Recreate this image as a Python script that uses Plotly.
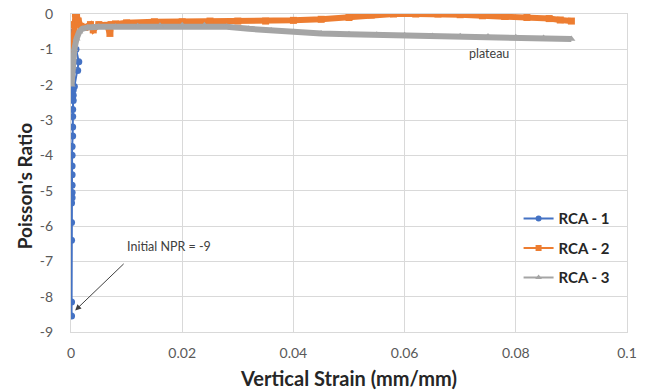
import plotly.graph_objects as go

# ---- data ----
rca1_x = [0.0001, 0.0001, 0.0001, 0.0001, 0.0001, 0.0002, 0.0002, 0.0002, 0.0002, 0.0002,
          0.0002, 0.0002, 0.0003, 0.0003, 0.0003, 0.0003, 0.0004, 0.0004, 0.0004, 0.0006,
          0.0012, 0.0014, 0.0009, 0.0004]
rca1_y = [-8.55, -8.15, -6.4, -5.9, -5.35, -5.2, -5.05, -4.85, -4.55, -4.3,
          -4.0, -3.75, -3.45, -3.2, -2.9, -2.7, -2.45, -2.3, -2.15, -2.05,
          -1.6, -1.35, -1.0, -0.5]

rca2_x = [0.0001, 0.0003, 0.0006, 0.0008, 0.0010, 0.0013, 0.0018, 0.0025, 0.0035, 0.004,
          0.005, 0.0065, 0.007, 0.0072, 0.008, 0.010, 0.015, 0.020, 0.025, 0.030,
          0.035, 0.040, 0.045, 0.050, 0.054, 0.058, 0.062, 0.066, 0.070, 0.074,
          0.078, 0.082, 0.086, 0.088, 0.090]
rca2_y = [-1.5, -0.9, -0.3, 0.0, -0.05, -0.2, -0.35, -0.38, -0.3, -0.45,
          -0.3, -0.32, -0.55, -0.3, -0.28, -0.25, -0.22, -0.22, -0.2, -0.2,
          -0.2, -0.18, -0.15, -0.1, -0.03, 0.0, 0.0, 0.0, -0.02, -0.05,
          -0.07, -0.1, -0.13, -0.17, -0.2]

rca3_x = [0.0001, 0.0003, 0.0006, 0.0010, 0.0015, 0.002, 0.003, 0.005, 0.008, 0.012,
          0.016, 0.020, 0.024, 0.028, 0.032, 0.036, 0.040, 0.045, 0.050, 0.055,
          0.060, 0.065, 0.070, 0.075, 0.080, 0.085, 0.090]
rca3_y = [-2.0, -1.5, -1.0, -0.7, -0.5, -0.42, -0.38, -0.36, -0.36, -0.35,
          -0.33, -0.32, -0.32, -0.36, -0.42, -0.47, -0.51, -0.55, -0.57, -0.59,
          -0.6, -0.62, -0.63, -0.64, -0.66, -0.68, -0.71]

series_names = ["RCA - 1", "RCA - 2", "RCA - 3"]
y_tickvals = [0, -1, -2, -3, -4, -5, -6, -7, -8, -9]
y_ticktext = ["0", "-1", "-2", "-3", "-4", "-5", "-6", "-7", "-8", "-9"]
x_tickvals = [0, 0.02, 0.04, 0.06, 0.08, 0.1]
x_ticktext = ["0", "0.02", "0.04", "0.06", "0.08", "0.1"]

BLUE = "#4472C4"
ORANGE = "#ED7D31"
GRAY = "#A5A5A5"
FONT = "Lato"

fig = go.Figure()

# data traces (RCA-1 at the bottom, RCA-3 on top)
fig.add_trace(go.Scatter(x=rca1_x, y=rca1_y, mode="lines+markers", showlegend=False,
                         line=dict(color=BLUE, width=2),
                         marker=dict(symbol="circle", size=7, color=BLUE)))
fig.add_trace(go.Scatter(x=rca2_x, y=rca2_y, mode="lines+markers", showlegend=False,
                         line=dict(color=ORANGE, width=6),
                         marker=dict(symbol="square", size=7, color=ORANGE)))
fig.add_trace(go.Scatter(x=rca3_x, y=rca3_y, mode="lines+markers", showlegend=False,
                         line=dict(color=GRAY, width=6),
                         marker=dict(symbol="triangle-up", size=7, color=GRAY)))

# legend-only traces
for name, col, sym, g in zip(series_names, [BLUE, ORANGE, GRAY],
                             ["circle", "square", "triangle-up"], ["a", "b", "c"]):
    fig.add_trace(go.Scatter(x=[None], y=[None], mode="lines+markers", name=name,
                             legendgroup=g,
                             line=dict(color=col, width=2),
                             marker=dict(symbol=sym, size=6, color=col)))

axis_common = dict(showgrid=True, gridcolor="#D9D9D9", gridwidth=1, zeroline=False,
                   showline=True, linecolor="#D9D9D9", linewidth=1, mirror=True,
                   ticks="", tickfont=dict(family=FONT, size=14, color="#595959"))

fig.update_xaxes(range=[0, 0.1], tickvals=x_tickvals, ticktext=x_ticktext,
                 ticklabelstandoff=8, automargin=False,
                 title=dict(text="<b>Vertical Strain (mm/mm)</b>", standoff=20,
                            font=dict(family=FONT, size=20, color="#262626")),
                 **axis_common)
fig.update_yaxes(range=[-9, 0], tickvals=y_tickvals, ticktext=y_ticktext,
                 ticklabelstandoff=14, automargin=False, **axis_common)

# y-axis title (placed slightly below the plot centre as in the reference)
fig.add_annotation(xref="paper", yref="paper", x=-0.084, y=0.459,
                   xanchor="center", yanchor="middle", textangle=-90,
                   text="<b>Poisson's Ratio</b>", showarrow=False,
                   font=dict(family=FONT, size=19, color="#262626"))

fig.add_annotation(x=0.00075, y=-8.39, ax=50, ay=-48, text="", showarrow=True,
                   arrowhead=2, arrowsize=1.2, arrowwidth=1, arrowcolor="#404040")
fig.add_annotation(x=0.0176, y=-6.59, text="Initial NPR = -9", showarrow=False,
                   font=dict(family=FONT, size=12.5, color="#404040"))
fig.add_annotation(x=0.0752, y=-1.11, text="plateau", showarrow=False,
                   font=dict(family=FONT, size=12.5, color="#404040"))

fig.update_layout(
    width=654, height=390,
    margin=dict(l=71, r=27, t=14, b=58),
    paper_bgcolor="white", plot_bgcolor="white",
    legend=dict(x=0.805, y=0.408, xanchor="left", yanchor="top",
                bgcolor="rgba(0,0,0,0)", tracegroupgap=7,
                font=dict(family=FONT, size=15, color="#262626", weight="bold"),
                itemwidth=30),
    font=dict(family=FONT),
)

fig.write_html("out.html")
